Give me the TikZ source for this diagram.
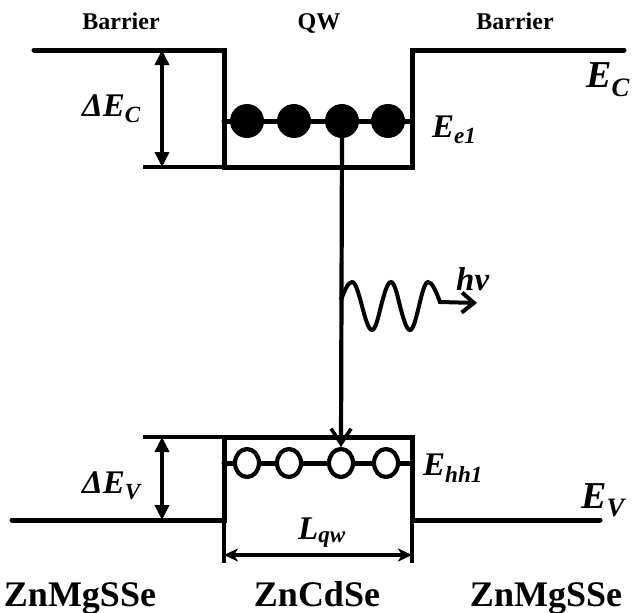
\documentclass[tikz,border=0pt]{standalone}
\usepackage{fontspec}
\setmainfont{Liberation Serif}
\usetikzlibrary{arrows.meta,shapes.geometric}
\begin{document}
\begin{tikzpicture}[x=1pt,y=-1pt,
  band/.style={line width=5pt, line cap=round, line join=miter},
  refline/.style={line width=4pt},
  thinline/.style={line width=3.2pt},
  dimarrow/.style={line width=3.6pt, {Triangle[length=15pt,width=14pt]}-{Triangle[length=15pt,width=14pt]}},
  lenarrow/.style={line width=3.2pt, {Stealth[length=14pt,width=13pt,inset=4pt]}-{Stealth[length=14pt,width=13pt,inset=4pt]}},
  electron/.style={circle, fill=black, inner sep=0pt, minimum size=34pt},
  hole/.style={ellipse, draw, fill=white, line width=4.2pt, inner sep=0pt, minimum width=24pt, minimum height=28pt},
  lab/.style={font=\fontsize{33}{33}\selectfont\bfseries\itshape, inner sep=0pt, anchor=base west},
  biglab/.style={font=\fontsize{38}{38}\selectfont\bfseries\itshape, inner sep=0pt, anchor=base west},
  toplab/.style={font=\fontsize{24}{24}\selectfont\bfseries, inner sep=0pt, anchor=base},
  matlab/.style={font=\fontsize{36}{36}\selectfont\bfseries, inner sep=0pt, anchor=base}
]
\useasboundingbox (0,0) rectangle (632,613);

% conduction band
\coordinate (cbL) at (34,50);
\coordinate (cbW1) at (224,50);
\coordinate (cbB1) at (224,167);
\coordinate (cbB2) at (412,167);
\coordinate (cbW2) at (412,50);
\coordinate (cbR) at (624,50);
\coordinate (cbRef) at (143,167);
\draw[band] (cbL) -- (cbW1) -- (cbB1) -- (cbB2) -- (cbW2) -- (cbR);
\draw[refline] (cbRef) -- (cbB1);
\coordinate (dcT) at (162,50);
\coordinate (dcB) at (162,167);
\draw[dimarrow] (dcT) -- (dcB);

% valence band
\coordinate (vbL) at (12,520);
\coordinate (vbW1) at (224,520);
\coordinate (vbT1) at (224,437);
\coordinate (vbT2) at (412,437);
\coordinate (vbW2) at (412,520);
\coordinate (vbR) at (600,520);
\coordinate (vbRef) at (143,437);
\draw[band] (vbL) -- (vbW1) -- (vbT1) -- (vbT2) -- (vbW2) -- (vbR);
\draw[refline] (vbRef) -- (vbT1);
\coordinate (dvT) at (162,437);
\coordinate (dvB) at (162,520);
\draw[dimarrow] (dvT) -- (dvB);

% well width
\coordinate (lqL) at (224,563);
\coordinate (lqR) at (412,563);
\draw[thinline] (vbW1) -- (lqL);
\draw[thinline] (vbW2) -- (lqR);
\coordinate (aL) at (224,555);
\coordinate (aR) at (412,555);
\draw[lenarrow] (aL) -- (aR);

% electron level
\coordinate (eL) at (224,121);
\coordinate (eR) at (412,121);
\draw[band] (eL) -- (eR);
\node[electron] (e1) at (247,121) {};
\node[electron] (e2) at (294,121) {};
\node[electron] (e3) at (342,121) {};
\node[electron] (e4) at (388,121) {};

% hole level
\coordinate (hL) at (224,463);
\coordinate (hR) at (412,463);
\draw[band] (hL) -- (hR);
\node[hole] (h1) at (247,463) {};
\node[hole] (h2) at (289,463) {};
\node[hole] (h3) at (341,463) {};
\node[hole] (h4) at (386,463) {};

% transition
\draw[line width=4.2pt, -{Straight Barb[length=15pt,width=20pt,line width=3.6pt]}] (e3.south) -- (h3.north);

% photon
\coordinate (w0) at (341,300);
\coordinate (wtip) at (477,303);
\draw[line width=4pt, -{Straight Barb[length=12pt,width=20pt]}]
  (w0) sin (352,282) cos (362,306) sin (372,330) cos (381,306) sin (391,282)
  cos (400,306) sin (410,330) cos (419,306) sin (428,282) cos (440,302) -- (wtip);

% labels
\node[toplab] (tb1) at (121,29) {Barrier};
\node[toplab] (tqw) at (319,29) {QW};
\node[toplab] (tb2) at (515,29) {Barrier};
\node[biglab] (ec) at (586,87) {E\textsubscript{C}};
\node[biglab] (ev) at (581,508) {E\textsubscript{V}};
\node[lab] (dec) at (82,116) {ΔE\textsubscript{C}};
\node[lab] (dev) at (82,493) {ΔE\textsubscript{V}};
\node[lab] (ee1) at (432,137) {E\textsubscript{e1}};
\node[lab] (ehh) at (423,475) {E\textsubscript{hh1}};
\node[lab] (hnu) at (456,290) {hν};
\node[lab, anchor=base] (lqw) at (322,539) {L\textsubscript{qw}};
\node[matlab] (m1) at (80,606) {ZnMgSSe};
\node[matlab] (m2) at (317,606) {ZnCdSe};
\node[matlab] (m3) at (546,606) {ZnMgSSe};
\end{tikzpicture}
\end{document}
